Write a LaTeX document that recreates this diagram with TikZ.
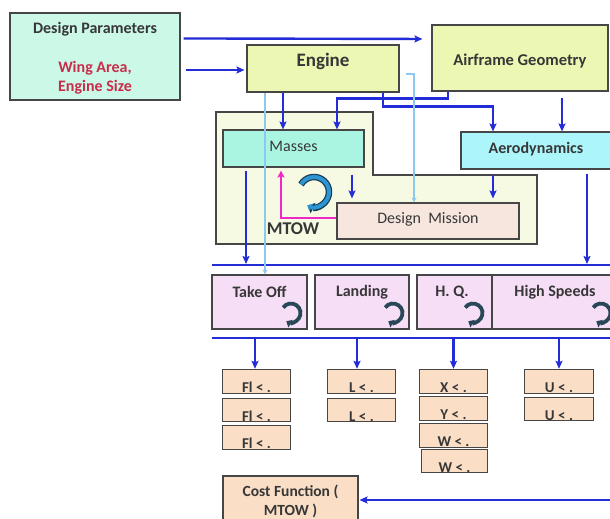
\documentclass[tikz,border=0pt]{standalone}
\usepackage{fontspec}
\setmainfont{Carlito}
\usetikzlibrary{arrows.meta}
\definecolor{bl}{RGB}{35,45,215}
\definecolor{lb}{RGB}{140,200,240}
\definecolor{mint}{RGB}{204,248,232}
\definecolor{ylg}{RGB}{235,247,178}
\definecolor{masc}{RGB}{170,245,225}
\definecolor{aeroc}{RGB}{172,245,250}
\definecolor{cream}{RGB}{246,250,226}
\definecolor{dmc}{RGB}{246,230,222}
\definecolor{pinkb}{RGB}{246,222,246}
\definecolor{peach}{RGB}{250,222,198}
\definecolor{mag}{RGB}{240,40,200}
\definecolor{txt}{RGB}{55,55,55}
\definecolor{redt}{RGB}{200,45,75}
\definecolor{bdr}{RGB}{70,70,70}
\definecolor{cyc}{RGB}{45,150,210}
\definecolor{cyd}{RGB}{25,60,85}
\definecolor{teal}{RGB}{40,72,88}
\tikzset{
  box/.style={draw=bdr, line width=1.1pt, rectangle, inner sep=0pt},
  lbl/.style={text=txt, font=\bfseries\fontsize{16}{18}\selectfont, inner sep=0pt},
  sml/.style={text=txt, font=\bfseries\fontsize{15}{16}\selectfont, inner sep=0pt, anchor=base},
  arr/.style={draw=bl, line width=2.4pt, -{Stealth[length=8pt,width=7pt,inset=1.5pt]}},
  bus/.style={draw=bl, line width=2.6pt},
  lba/.style={draw=lb, line width=1.6pt, -{Stealth[length=5pt,width=5pt]}},
  magarr/.style={draw=mag, line width=2.4pt, -{Stealth[length=7pt,width=7pt,inset=1.5pt]}},
}
\begin{document}
\begin{tikzpicture}[x=1pt,y=-1pt]
\useasboundingbox[fill=white] (0,0) rectangle (610,519);

% outer group
\draw[fill=cream, draw=bdr, line width=1.1pt] (216,112) -- (373,112) -- (373,175) -- (537,175) -- (537,244) -- (216,244) -- cycle;

% top boxes
\node[box, fill=mint, minimum width=170pt, minimum height=87pt] (dp) at (95,56.5) {};
\node[lbl] (dpt) at (95,29) {Design Parameters};
\node[lbl, text=redt, align=center, font=\bfseries\fontsize{16}{19}\selectfont] (dpr) at (95,78) {Wing Area,\\Engine Size};
\node[box, fill=ylg, minimum width=152pt, minimum height=47pt] (eng) at (323,68.5) {};
\node[lbl, font=\bfseries\fontsize{19}{21}\selectfont] (engt) at (323,61) {Engine};
\node[box, fill=ylg, minimum width=176pt, minimum height=66pt] (af) at (520,58) {};
\node[lbl, font=\bfseries\fontsize{16.5}{18}\selectfont] (aft) at (520,61) {Airframe Geometry};

\node[box, fill=masc, minimum width=141pt, minimum height=37pt] (mas) at (293.5,148.5) {};
\node[lbl, font=\fontsize{16}{18}\selectfont] (mast) at (293.5,146) {Masses};
\node[box, fill=aeroc, minimum width=151pt, minimum height=37pt] (aero) at (536.5,150.5) {};
\node[lbl] (aerot) at (536,149) {Aerodynamics};
\node[box, fill=dmc, minimum width=182pt, minimum height=36pt] (dm) at (428,221) {};
\node[lbl, font=\fontsize{16}{18}\selectfont] (dmt) at (428,219) {Design\ \ Mission};
\node[lbl, font=\bfseries\fontsize{18}{20}\selectfont] (mtow) at (293,229) {MTOW};

% row of analyses
\node[box, fill=pinkb, minimum width=95pt, minimum height=54pt] (to) at (259.5,302) {};
\node[lbl] (tot) at (259.5,292) {Take Off};
\node[box, fill=pinkb, minimum width=94pt, minimum height=54pt] (ld) at (362,302) {};
\node[lbl] (ldt) at (362,292) {Landing};
\node[box, fill=pinkb, minimum width=75pt, minimum height=54pt] (hq) at (454.5,302) {};
\node[lbl] (hqt) at (452,292) {H. Q.};
\node[box, fill=pinkb, minimum width=123pt, minimum height=54pt] (hs) at (553.5,302) {};
\node[lbl] (hst) at (555,292) {High Speeds};

% small constraint boxes (fill, then text, then outline)
\tikzset{cb/.style={rectangle, inner sep=0pt, fill=peach, minimum height=23pt}}
\node[cb, minimum width=67pt] (a1) at (256.5,381.5) {};
\node[cb, minimum width=67pt] (a2) at (256.5,410) {};
\node[cb, minimum width=67pt] (a3) at (256.5,437.5) {};
\node[cb, minimum width=67pt] (b1) at (361.5,381.5) {};
\node[cb, minimum width=67pt] (b2) at (361.5,410) {};
\node[cb, minimum width=67pt] (c1) at (453.5,381.5) {};
\node[cb, minimum width=67pt] (c2) at (453.5,408.5) {};
\node[cb, minimum width=67pt] (c3) at (453.5,435.5) {};
\node[cb, minimum width=65pt] (c4) at (454.5,461) {};
\node[cb, minimum width=68pt] (d1) at (559,381.5) {};
\node[cb, minimum width=68pt] (d2) at (559,409) {};
\node[sml] (a1t) at ([yshift=0.5pt]a1.south) {Fl < .};
\node[sml] (a2t) at ([yshift=0.5pt]a2.south) {Fl < .};
\node[sml] (a3t) at ([yshift=0.5pt]a3.south) {Fl < .};
\node[sml] (b1t) at ([yshift=0.5pt]b1.south) {L < .};
\node[sml] (b2t) at ([yshift=0.5pt]b2.south) {L < .};
\node[sml] (c1t) at ([yshift=0.5pt]c1.south) {X < .};
\node[sml] (c2t) at ([yshift=0.5pt]c2.south) {Y < .};
\node[sml] (c3t) at ([yshift=0.5pt]c3.south) {W < .};
\node[sml] (c4t) at ([yshift=0.5pt]c4.south) {W < .};
\node[sml] (d1t) at ([yshift=0.5pt]d1.south) {U < .};
\node[sml] (d2t) at ([yshift=0.5pt]d2.south) {U < .};
\foreach \n in {a1,a2,a3,b1,b2,c1,c2,c3,c4,d1,d2}{
  \draw[draw=bdr, line width=1.1pt] (\n.south west) rectangle (\n.north east);
}

\node[box, fill=peach, minimum width=135pt, minimum height=54pt] (cost) at (290.5,503) {};
\node[lbl, align=center, font=\bfseries\fontsize{15.5}{19}\selectfont] (costt) at (290.5,501) {Cost Function (\\MTOW )};

% connectors from design parameters
\draw[arr, shorten <=3pt, shorten >=9pt] ([yshift=-26pt]dp.north east) -- ([yshift=19pt]af.west);
\draw[arr, shorten <=5pt, shorten >=2pt] ([yshift=-13.5pt]dp.east) -- ([yshift=-1.5pt]eng.west);

% engine / airframe to masses / aero
\draw[arr] ([xshift=-40pt]eng.south) -- ([xshift=-10.5pt]mas.north);
\draw[arr] ([xshift=-72pt]af.south) -- ++(0,7) -| ([xshift=43.5pt]mas.north);
\draw[arr] ([xshift=60pt]eng.south) -- ++(0,14) -| ([xshift=-43.5pt]aero.north);
\draw[arr, shorten <=6pt] ([xshift=42pt]af.south) -- ([xshift=25.5pt]aero.north);

% inside group
\draw[arr, shorten <=7pt, shorten >=4pt] ([xshift=58.5pt]mas.south) -- ([xshift=-76pt]dm.north);
\draw[arr, shorten <=5pt, shorten >=4pt] ([xshift=-43.5pt]aero.south) -- ([xshift=65pt]dm.north);
\draw[magarr, shorten >=3pt] ([yshift=3pt]dm.west) -| ([xshift=-12.5pt]mas.south);

% circular arrow (iteration)
\coordinate (loop) at (314,192);
\draw[cyd, line width=6.5pt, -{Triangle[length=6pt,width=11pt]}] (loop) ++(150:15pt) arc[start angle=150, end angle=-115, radius=15pt];
\draw[cyc, line width=4pt, -{Triangle[length=4.5pt,width=8pt]}] (loop) ++(148:15pt) arc[start angle=148, end angle=-117, radius=15pt];

% buses
\coordinate (h1l) at (212,265);
\coordinate (h1r) at (612,265);
\coordinate (h2l) at (212,338);
\coordinate (h2r) at (612,338);
\draw[bus] (h1l) -- (h1r);
\draw[bus] (h2l) -- (h2r);
\coordinate (mb) at ([xshift=-47.5pt]mas.south);
\coordinate (ab) at ([xshift=50.5pt]aero.south);
\draw[arr, shorten <=3pt, shorten >=1pt] (mb) -- (mb |- h1l);
\draw[arr, shorten <=4pt, shorten >=1pt] (ab) -- (ab |- h1l);

% light blue feeds
\draw[lba] ([xshift=-58pt]eng.south) -- ([xshift=5.5pt]to.north);
\draw[lba] ([xshift=6pt,yshift=-5.5pt]eng.east) -| ([xshift=-14pt]dm.north);

% small loop arrows
\foreach \cx/\nm in {291/l1, 393/l2, 473/l3, 601/l4}{
  \coordinate (\nm) at (\cx,313);
  \draw[teal, line width=3.8pt, -{Triangle[length=5pt,width=8.5pt]}] (\nm) ++(145:9.5pt) arc[start angle=145, end angle=-120, radius=9.5pt];
}

% bus to constraints
\draw[arr, shorten >=1pt] ([xshift=-1.5pt]a1.north |- h2l) -- ([xshift=-1.5pt]a1.north);
\draw[arr, shorten >=1pt] ([xshift=-4.5pt]b1.north |- h2l) -- ([xshift=-4.5pt]b1.north);
\draw[arr, shorten >=1pt] (c1.north |- h2l) -- (c1.north);
\draw[arr, shorten >=1pt] (d1.north |- h2l) -- (d1.north);

% back to cost function
\coordinate (ce) at (612,500);
\draw[arr, shorten >=1pt] (ce) -- (cost.east |- ce);
\end{tikzpicture}
\end{document}
